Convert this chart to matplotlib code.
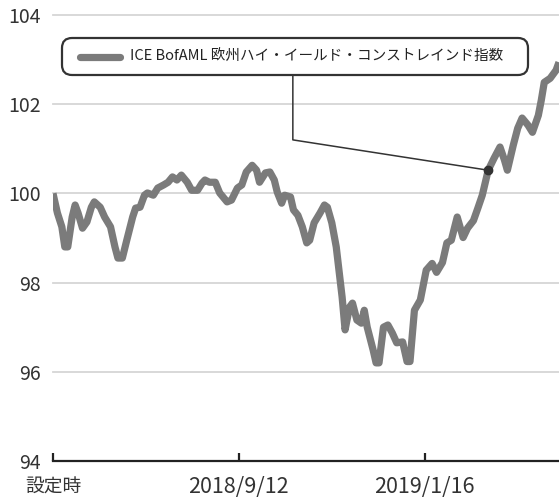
import matplotlib
matplotlib.use("Agg")
import matplotlib.pyplot as plt
from matplotlib.patches import FancyBboxPatch
from matplotlib.lines import Line2D

plt.rcParams['font.family'] = ['Noto Sans CJK JP', 'DejaVu Sans']

# Data: days since launch (設定時 = 2018/5/9) and index values
days = [0, 1, 3, 6, 8, 10, 13, 15, 17, 20, 23, 26, 28, 32, 35, 39, 42, 44, 47, 50,
        54, 56, 59, 62, 64, 68, 71, 75, 78, 81, 84, 87, 91, 94, 98, 101, 103, 106, 110, 113,
        118, 121, 125, 128, 131, 135, 138, 140, 144, 147, 150, 152, 155, 157, 161, 163, 166, 169, 172, 174,
        177, 181, 184, 186, 189, 192, 196, 198, 201, 203, 206, 209, 211, 213, 217, 219, 221, 224, 227, 230,
        233, 237, 240, 242, 245, 249, 253, 257, 260, 264, 267, 270, 274, 278, 281, 285, 288, 291, 295, 299,
        303, 306, 308, 312, 315, 318, 322, 325, 329, 331, 333, 337, 341, 343]
values = [100.00, 99.85, 99.56, 99.25, 98.80, 98.80, 99.47, 99.74, 99.56, 99.22,
          99.36, 99.69, 99.81, 99.69, 99.47, 99.25, 98.80, 98.55, 98.55, 98.95,
          99.47, 99.67, 99.69, 99.96, 100.01, 99.96, 100.12, 100.19, 100.25, 100.37,
          100.30, 100.41, 100.25, 100.07, 100.07, 100.23, 100.30, 100.25, 100.25, 100.01,
          99.81, 99.85, 100.12, 100.19, 100.48, 100.63, 100.52, 100.25, 100.46, 100.48,
          100.30, 100.03, 99.78, 99.96, 99.92, 99.63, 99.51, 99.25, 98.89, 98.95,
          99.34, 99.56, 99.74, 99.69, 99.34, 98.80, 97.67, 96.94, 97.45, 97.54,
          97.16, 97.09, 97.38, 97.00, 96.49, 96.20, 96.20, 97.00, 97.05, 96.87,
          96.65, 96.67, 96.23, 96.23, 97.38, 97.61, 98.28, 98.43, 98.23, 98.45,
          98.89, 98.95, 99.47, 99.01, 99.22, 99.39, 99.67, 99.96, 100.52, 100.79,
          101.04, 100.75, 100.52, 101.08, 101.46, 101.69, 101.53, 101.37, 101.75, 102.09,
          102.49, 102.58, 102.76, 102.94]

series_name = "ICE BofAML 欧州ハイ・イールド・コンストレインド指数"
xtick_pos = [0, 126, 252]
xtick_labels = ["設定時", "2018/9/12", "2019/1/16"]
yticks = [94, 96, 98, 100, 102, 104]
marker_day = 295

W, H = 559, 497
fig = plt.figure(figsize=(W / 100, H / 100), dpi=100)
ax = fig.add_axes([53 / W, 1 - 461 / H, (W - 53) / W, (461 - 15) / H])

xmin, xmax = 0, 343
ymin, ymax = 94, 104
ax.set_xlim(xmin, xmax)
ax.set_ylim(ymin, ymax)

for yv in yticks[1:]:
    ax.axhline(yv, color='#d6d6d6', lw=1.3, zorder=0, clip_on=False)

line_color = '#7b7b7b'
ax.plot(days, values, color=line_color, lw=5.2, solid_joinstyle='round',
        solid_capstyle='butt', zorder=3)

for s in ['left', 'right', 'top']:
    ax.spines[s].set_visible(False)
ax.spines['bottom'].set_color('#222222')
ax.spines['bottom'].set_linewidth(1.6)

ax.set_yticks(yticks)
ax.set_yticklabels([str(v) for v in yticks])
ax.tick_params(axis='y', length=0, pad=9, labelsize=14, labelcolor='#333333')
ax.set_xticks(xtick_pos)
ax.set_xticklabels(xtick_labels)
ax.tick_params(axis='x', direction='in', length=6, width=1.6, color='#222222',
               pad=11, labelcolor='#333333')
xl = ax.get_xticklabels()
xl[0].set_fontsize(13.5)
for t in xl[1:]:
    t.set_fontsize(15.5)

# Legend box (drawn in inches from bottom-left of the figure)
tr = fig.dpi_scale_trans
box = FancyBboxPatch((0.62, (H - 75) / 100), 4.66, 0.37,
                     boxstyle='round,pad=0,rounding_size=0.1',
                     facecolor='white', edgecolor='#333333', lw=1.6,
                     transform=tr, zorder=10)
fig.add_artist(box)
ly = (H - 57) / 100
fig.add_artist(Line2D([0.80, 1.20], [ly, ly], color=line_color, lw=5.2,
                      solid_capstyle='round', transform=tr, zorder=11))
fig.text(1.30, ly, series_name, transform=tr, fontsize=10.5, color='#222222',
         va='center', ha='left', zorder=11)

# Leader line from legend to marker point
mi = days.index(marker_day)
mx, my = days[mi], values[mi]
fx = 0.474
top_frac, corner_frac = 0.865, 0.72
to_y = lambda f: ymin + f * (ymax - ymin)
to_x = lambda f: xmin + f * (xmax - xmin)
ax.plot([to_x(fx), to_x(fx), mx], [to_y(top_frac), to_y(corner_frac), my],
        color='#333333', lw=1.1, zorder=4)
ax.plot([mx], [my], 'o', color='#333333', ms=6, zorder=5)

fig.savefig("out.png", dpi=100)
